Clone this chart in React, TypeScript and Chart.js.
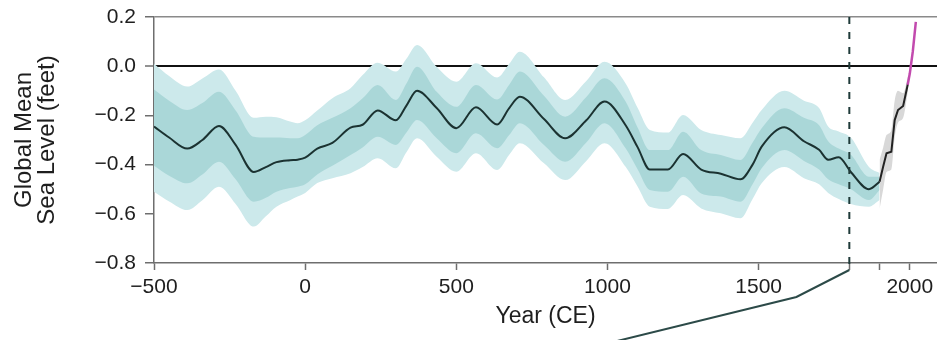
import React, { useEffect, useRef } from "react";
import { Chart, registerables } from "chart.js";

Chart.register(...registerables);

// ---- Data ----
const YEARS = [-500, -450, -390, -340, -285, -230, -170, -130, -95, -50, -25, 0, 40, 90, 150, 190, 240, 300, 335, 370, 435, 500, 565, 635, 675, 710, 790, 860, 930, 990, 1060, 1100, 1140, 1200, 1250, 1310, 1375, 1440, 1480, 1510, 1585, 1650, 1700, 1730, 1765, 1805, 1865, 1900];
const MEAN = [-0.245, -0.29, -0.335, -0.3, -0.243, -0.32, -0.43, -0.41, -0.39, -0.382, -0.38, -0.372, -0.335, -0.312, -0.25, -0.238, -0.18, -0.22, -0.16, -0.1, -0.17, -0.252, -0.167, -0.237, -0.17, -0.124, -0.215, -0.293, -0.22, -0.144, -0.24, -0.33, -0.42, -0.42, -0.357, -0.42, -0.437, -0.46, -0.4, -0.327, -0.248, -0.305, -0.34, -0.38, -0.37, -0.43, -0.5, -0.47];
const INNER_HI = [-0.095, -0.14, -0.178, -0.15, -0.104, -0.18, -0.287, -0.29, -0.29, -0.293, -0.293, -0.28, -0.24, -0.21, -0.171, -0.13, -0.076, -0.137, -0.07, -0.002, -0.104, -0.165, -0.076, -0.135, -0.075, -0.022, -0.12, -0.205, -0.125, -0.049, -0.144, -0.25, -0.341, -0.341, -0.266, -0.341, -0.361, -0.381, -0.31, -0.252, -0.171, -0.21, -0.24, -0.305, -0.335, -0.36, -0.449, -0.449];
const INNER_LO = [-0.405, -0.445, -0.476, -0.44, -0.388, -0.46, -0.551, -0.535, -0.51, -0.495, -0.49, -0.48, -0.44, -0.405, -0.361, -0.33, -0.287, -0.32, -0.27, -0.219, -0.293, -0.354, -0.273, -0.334, -0.28, -0.232, -0.32, -0.388, -0.31, -0.232, -0.334, -0.42, -0.503, -0.51, -0.449, -0.517, -0.53, -0.551, -0.48, -0.415, -0.341, -0.385, -0.42, -0.46, -0.48, -0.5, -0.544, -0.503];
const OUTER_HI = [0.01, -0.04, -0.083, -0.05, -0.013, -0.1, -0.21, -0.205, -0.208, -0.225, -0.232, -0.22, -0.18, -0.13, -0.09, -0.036, 0.014, -0.022, 0.03, 0.086, -0.002, -0.063, 0.012, -0.046, 0.01, 0.059, -0.045, -0.137, -0.06, 0.018, -0.07, -0.17, -0.259, -0.27, -0.198, -0.259, -0.28, -0.293, -0.23, -0.178, -0.1, -0.14, -0.17, -0.245, -0.265, -0.29, -0.41, -0.434];
const OUTER_LO = [-0.51, -0.55, -0.585, -0.545, -0.49, -0.56, -0.652, -0.61, -0.571, -0.545, -0.53, -0.515, -0.475, -0.455, -0.435, -0.41, -0.374, -0.415, -0.35, -0.293, -0.368, -0.429, -0.354, -0.422, -0.36, -0.313, -0.395, -0.463, -0.385, -0.313, -0.409, -0.49, -0.571, -0.58, -0.524, -0.578, -0.598, -0.618, -0.54, -0.476, -0.41, -0.455, -0.48, -0.515, -0.54, -0.56, -0.571, -0.544];

const GAUGE_YEARS = [1900, 1912, 1923, 1939, 1950, 1961, 1978, 1994];
const GAUGE_MEAN = [-0.47, -0.408, -0.354, -0.348, -0.219, -0.178, -0.162, -0.07];
const GAUGE_HI = [-0.38, -0.33, -0.28, -0.26, -0.14, -0.1, -0.11, -0.04];
const GAUGE_LO = [-0.58, -0.5, -0.43, -0.42, -0.29, -0.23, -0.21, -0.1];

const SAT_YEARS = [1993, 2000, 2010, 2020];
const SAT_MEAN = [-0.075, -0.03, 0.06, 0.18];

const X_TICKS = [-500, 0, 500, 1000, 1500, 1800, 1900, 2000];
const X_TICK_LABELS = ["\u2212500", "0", "500", "1000", "1500", "", "", "2000"];
const Y_TICKS = [-0.8, -0.6, -0.4, -0.2, 0, 0.2];
const Y_TICK_LABELS = ["\u22120.8", "\u22120.6", "\u22120.4", "\u22120.2", "0.0", "0.2"];

const DIVIDER_YEAR = 1800;
const CONNECTOR_YEARS = [1800, 1625, 1005];

const X_MIN = -500;
const X_MAX = 2090;
const Y_MIN = -0.8;
const Y_MAX = 0.2;

const pts = (xs: number[], ys: number[]) => xs.map((x, i) => ({ x, y: ys[i] }));

const FONT = "'Liberation Sans', Arial, Helvetica, sans-serif";
const TEXT = "#1e1e1e";
const AXIS = "#6e6e6e";

const overlayPlugin = {
  id: "overlay",
  afterDatasetsDraw(chart: any) {
    const { ctx, chartArea, scales } = chart;
    const x = scales.x;
    const px = x.getPixelForValue(DIVIDER_YEAR);
    ctx.save();
    ctx.strokeStyle = "#1f3a39";
    ctx.lineWidth = 2;
    ctx.setLineDash([7, 8]);
    ctx.beginPath();
    ctx.moveTo(px, chartArea.top);
    ctx.lineTo(px, chartArea.bottom + 7);
    ctx.stroke();
    ctx.setLineDash([]);
    const offs = [7, 34, 80];
    ctx.strokeStyle = "#2c4a48";
    ctx.beginPath();
    CONNECTOR_YEARS.forEach((yr, i) => {
      const cx = x.getPixelForValue(yr);
      const cy = chartArea.bottom + offs[i];
      if (i === 0) ctx.moveTo(cx, cy);
      else ctx.lineTo(cx, cy);
    });
    ctx.stroke();
    ctx.restore();
  },
};

export default function App() {
  const ref = useRef<HTMLCanvasElement | null>(null);

  useEffect(() => {
    if (!ref.current) return;
    Chart.defaults.font.family = FONT;
    const band = {
      pointRadius: 0,
      borderWidth: 0,
      borderColor: "rgba(0,0,0,0)",
      cubicInterpolationMode: "monotone" as const,
    };
    const chart = new Chart(ref.current, {
      type: "line",
      data: {
        datasets: [
          { ...band, data: pts(YEARS, OUTER_HI), fill: false, order: 9 },
          { ...band, data: pts(YEARS, OUTER_LO), fill: 0, backgroundColor: "#cce9eb", order: 8 },
          { ...band, data: pts(YEARS, INNER_HI), fill: false, order: 7 },
          { ...band, data: pts(YEARS, INNER_LO), fill: 2, backgroundColor: "#aad7d8", order: 6 },
          { ...band, data: pts(GAUGE_YEARS, GAUGE_HI), fill: false, order: 5 },
          { ...band, data: pts(GAUGE_YEARS, GAUGE_LO), fill: 4, backgroundColor: "#d8d8d8", order: 4 },
          {
            data: pts(YEARS, MEAN),
            borderColor: "#1b3231",
            borderWidth: 2,
            pointRadius: 0,
            fill: false,
            cubicInterpolationMode: "monotone",
            order: 2,
          },
          {
            data: pts(GAUGE_YEARS, GAUGE_MEAN),
            borderColor: "#222222",
            borderWidth: 2,
            pointRadius: 0,
            fill: false,
            tension: 0,
            order: 1,
          },
          {
            data: pts(SAT_YEARS, SAT_MEAN),
            borderColor: "#c24aae",
            borderWidth: 2.5,
            pointRadius: 0,
            fill: false,
            tension: 0,
            order: 0,
          },
        ],
      },
      options: {
        animation: false,
        responsive: false,
        devicePixelRatio: 1,
        parsing: false as any,
        layout: { padding: { top: 17, right: 0, left: 0, bottom: 0 } },
        plugins: {
          legend: { display: false },
          tooltip: { enabled: false },
        },
        scales: {
          x: {
            type: "linear",
            min: X_MIN,
            max: X_MAX,
            afterFit: (s: any) => {
              s.height = 77;
              s.paddingRight = 0;
            },
            afterBuildTicks: (s: any) => {
              s.ticks = X_TICKS.map((v) => ({ value: v }));
            },
            ticks: {
              autoSkip: false,
              maxRotation: 0,
              padding: 5,
              color: TEXT,
              font: { size: 21 },
              callback: (v: any) => {
                const i = X_TICKS.indexOf(Number(v));
                return i >= 0 ? X_TICK_LABELS[i] : "";
              },
            },
            grid: {
              drawOnChartArea: false,
              drawTicks: true,
              tickLength: 7,
              tickColor: AXIS,
              tickWidth: 1.5,
            },
            border: { display: true, color: AXIS, width: 1.5 },
            title: {
              display: true,
              text: "Year (CE)",
              color: TEXT,
              font: { size: 23 },
              padding: { top: 0, bottom: 10 },
            },
          },
          y: {
            type: "linear",
            min: Y_MIN,
            max: Y_MAX,
            afterFit: (s: any) => {
              s.width = 154;
              s.paddingTop = 0;
              s.paddingBottom = 0;
            },
            afterBuildTicks: (s: any) => {
              s.ticks = Y_TICKS.map((v) => ({ value: v }));
            },
            ticks: {
              padding: 9,
              color: TEXT,
              font: { size: 21 },
              callback: (v: any) => {
                const i = Y_TICKS.findIndex((t) => Math.abs(t - Number(v)) < 1e-6);
                return i >= 0 ? Y_TICK_LABELS[i] : "";
              },
            },
            grid: {
              drawOnChartArea: true,
              drawTicks: true,
              tickLength: 9,
              tickColor: AXIS,
              tickWidth: 1.5,
              color: (c: any) => {
                const v = c.tick ? c.tick.value : null;
                if (v !== null && Math.abs(v) < 1e-6) return "#111111";
                if (v !== null && Math.abs(v - Y_MAX) < 1e-6) return "#8a8a8a";
                return "rgba(0,0,0,0)";
              },
              lineWidth: (c: any) => {
                const v = c.tick ? c.tick.value : null;
                return v !== null && Math.abs(v) < 1e-6 ? 2 : 1.5;
              },
            },
            border: { display: true, color: AXIS, width: 1.5 },
            title: {
              display: true,
              text: ["Global Mean", "Sea Level (feet)"],
              color: TEXT,
              font: { size: 24, lineHeight: 0.96 },
              padding: { top: 13, bottom: 0 },
            },
          },
        },
      },
      plugins: [overlayPlugin],
    });
    return () => chart.destroy();
  }, []);

  return (
    <div style={{ position: "absolute", left: 0, top: 0, width: 937, height: 340, background: "#ffffff" }}>
      <canvas ref={ref} width={937} height={340} style={{ width: 937, height: 340, display: "block" }} />
    </div>
  );
}
